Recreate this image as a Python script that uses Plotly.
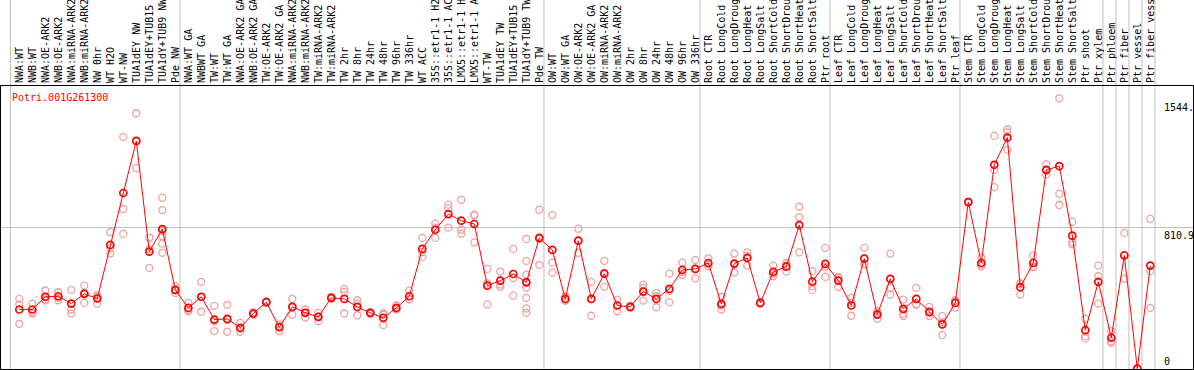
import plotly.graph_objects as go

categories = [
    "NWA:WT", "NWB:WT", "NWA:OE-ARK2", "NWB:OE-ARK2", "NWA:miRNA-ARK2", "NWB:miRNA-ARK2",
    "NW 0hr", "WT H2O", "WT-NW", "TUA1dEY NW", "TUA1dEY+TUB15 NW", "TUA1dY+TUB9 NW", "Pde NW",
    "NWA:WT GA", "NWBWT GA", "TW:WT", "TW:WT GA", "NWA:OE-ARK2 GA", "NWB:OE-ARK2 GA",
    "TW:OE-ARK2", "TW:OE-ARK2 GA", "NWA:miRNA-ARK2", "NWB:miRNA-ARK2", "TW:miRNA-ARK2",
    "TW:miRNA-ARK2", "TW 2hr", "TW 8hr", "TW 24hr", "TW 48hr", "TW 96hr", "TW 336hr", "WT ACC",
    "35S::etr1-1 H2O", "35S::etr1-1 ACC", "LMX5::etr1-1 H2O", "LMX5::etr1-1 ACC", "WT-TW",
    "TUA1dEY TW", "TUA1dEY+TUB15 TW", "TUA1dY+TUB9 TW", "Pde TW",
    "OW:WT", "OW:WT GA", "OW:OE-ARK2", "OW:OE-ARK2 GA", "OW:miRNA-ARK2", "OW:miRNA-ARK2",
    "OW 2hr", "OW 8hr", "OW 24hr", "OW 48hr", "OW 96hr", "OW 336hr",
    "Root CTR", "Root LongCold", "Root LongDrought", "Root LongHeat", "Root LongSalt",
    "Root ShortCold", "Root ShortDrought", "Root ShortHeat", "Root ShortSalt", "Ptr root",
    "Leaf CTR", "Leaf LongCold", "Leaf LongDrought", "Leaf LongHeat", "Leaf LongSalt",
    "Leaf ShortCold", "Leaf ShortDrought", "Leaf ShortHeat", "Leaf ShortSalt", "Ptr leaf",
    "Stem CTR", "Stem LongCold", "Stem LongDrought", "Stem LongHeat", "Stem LongSalt",
    "Stem ShortCold", "Stem ShortDrought", "Stem ShortHeat", "Stem ShortSalt", "Ptr shoot",
    "Ptr xylem", "Ptr phloem", "Ptr fiber", "Ptr vessel", "Ptr fiber vessel",
]

means = [
    340, 340, 413, 416, 374, 430, 403, 711, 1009, 1308, 672, 802, 453,
    349, 413, 282, 286, 235, 317, 382, 238, 355, 321, 298, 407, 401, 355, 321, 292, 349,
    416, 688, 798, 888, 850, 831, 477, 506, 544, 496, 751,
    682, 401, 735, 401, 546, 363, 355, 443, 401, 458, 567, 573,
    607, 372, 604, 636, 378, 556, 586, 825, 500, 602,
    506, 363, 632, 311, 516, 344, 401, 326, 254, 378,
    957, 607, 1171, 1327, 468, 607, 1142, 1163, 764, 221, 499,
    178, 650, 0, 592,
]

replicates = [
    [401, 369, 258], [374, 325, 317], [449, 398, 393], [439, 407, 393], [453, 340, 317],
    [477, 435, 378], [422, 412, 374], [785, 693, 661], [1331, 917, 774], [1467, 1305, 1152],
    [752, 685, 579], [982, 911, 790, 760, 718, 665], [474, 450, 435],
    [378, 339, 330], [499, 413, 327], [361, 270, 216], [367, 279, 212], [263, 230, 212],
    [325, 317, 309], [385, 381, 380], [254, 244, 216], [401, 354, 310], [340, 321, 294],
    [321, 300, 273], [413, 407, 401], [458, 441, 317], [393, 374, 307], [325, 321, 315],
    [317, 309, 250], [363, 344, 340], [450, 399, 399], [751, 671, 642], [833, 810, 751],
    [942, 922, 810], [970, 798, 775], [885, 880, 725], [573, 489, 369], [558, 483, 470],
    [688, 521, 420], [745, 619, 540, 500, 466, 407, 346, 321], [913, 744, 596],
    [882, 609, 552], [416, 401, 390], [804, 736, 665], [499, 400, 304], [619, 550, 470],
    [397, 362, 330], [361, 355, 349], [483, 464, 391], [435, 416, 353], [546, 447, 382],
    [609, 555, 538], [625, 575, 519],
    [634, 599, 588], [413, 363, 340], [661, 597, 554], [668, 648, 592], [382, 380, 372],
    [592, 545, 531], [607, 593, 558], [930, 871, 668], [560, 473, 451], [694, 585, 527],
    [527, 521, 470], [407, 378, 304], [694, 602, 600], [330, 316, 287], [661, 464, 426],
    [397, 315, 302], [464, 370, 369], [355, 321, 302], [302, 267, 193], [393, 390, 351],
    [960, 957, 955], [636, 597, 588], [1337, 1142, 1043], [1375, 1358, 1257], [491, 486, 426],
    [651, 588, 582], [1175, 1137, 1115], [1553, 1005, 940], [843, 726, 714], [287, 187, 174],
    [592, 531, 374], [216, 158, 149], [780, 654, 516], [0, 0, 0], [860, 560, 349],
]

separators = [-0.68, 12.36, 40.36, 52.36, 62.36, 72.36, 83.36, 84.36, 85.36, 86.36, 87.36]
ytick_vals = [1544, 810.9, 0]
ytick_text = ["1544.", "810.9", "0"]
gene_name = "Potri.001G261300"

MONO = "DejaVu Sans Mono"

idx = list(range(len(categories)))
rep_x = [i for i, reps in enumerate(replicates) for _ in reps]
rep_y = [v for reps in replicates for v in reps]

fig = go.Figure()
fig.add_trace(go.Scatter(
    x=rep_x, y=rep_y, mode="markers",
    marker=dict(symbol="circle-open", size=7, color="#F0A0A0", line=dict(width=1.3)),
    hoverinfo="skip",
))
fig.add_trace(go.Scatter(
    x=idx, y=means, mode="lines+markers",
    line=dict(color="#FF0000", width=1),
    marker=dict(symbol="circle-open", size=7, color="#FF0000", line=dict(width=1.7)),
))

shapes = []
for s in separators:
    shapes.append(dict(type="line", xref="x", yref="paper", x0=s, x1=s, y0=0, y1=1.31,
                       line=dict(color="#C0C0C0", width=1), layer="below"))
shapes.append(dict(type="line", xref="paper", yref="y", x0=0, x1=1, y0=810.9, y1=810.9,
                   line=dict(color="#C0C0C0", width=1), layer="below"))

annotations = [dict(text=gene_name, xref="paper", yref="paper", x=(10 - 1) / 1192, y=(369 - 97) / 283,
                    xanchor="left", yanchor="middle", showarrow=False,
                    font=dict(family=MONO, size=10, color="#FF0000"))]
for v, t in zip(ytick_vals, ytick_text):
    annotations.append(dict(text=t, xref="paper", yref="y", x=(1162 - 1) / 1192, y=v,
                            xanchor="left", yanchor="bottom" if v == 0 else "top",
                            showarrow=False, font=dict(family=MONO, size=10, color="black")))

fig.update_layout(
    width=1194, height=370,
    margin=dict(l=1, r=1, t=86, b=1),
    plot_bgcolor="white", paper_bgcolor="white",
    showlegend=False,
    shapes=shapes, annotations=annotations,
    xaxis=dict(range=[-1.408, -1.408 + 1192 / 13], side="top", tickmode="array",
               tickvals=idx, ticktext=categories, tickangle=-90, ticks="",
               tickfont=dict(family=MONO, size=10, color="black"),
               showgrid=False, zeroline=False, showline=True, linecolor="black",
               linewidth=1, mirror=True, automargin=False, fixedrange=True),
    yaxis=dict(range=[-1.7, 1623.5], showticklabels=False, showgrid=False, zeroline=False,
               showline=True, linecolor="black", linewidth=1, mirror=True,
               automargin=False, fixedrange=True),
)

fig.write_html(
    "out.html",
    config={"displayModeBar": False},
    post_script="document.body.style.margin='0';document.body.style.padding='0';"
                "document.body.style.overflow='hidden';",
)
